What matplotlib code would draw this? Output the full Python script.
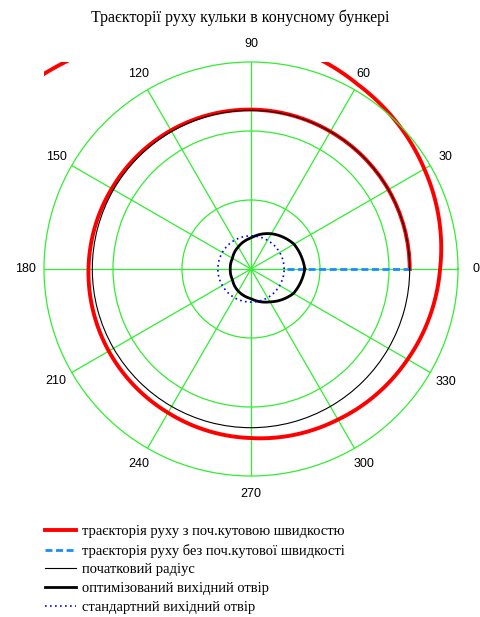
import numpy as np
import matplotlib
matplotlib.use("Agg")
import matplotlib.pyplot as plt

# trajectory with initial angular velocity (angle in degrees, radius in m)
spiral_deg = [0, 30, 60, 90, 120, 150, 180, 210, 240, 270, 300, 330, 360,
              390, 420, 450, 480, 510, 540]
spiral_r = [0.230, 0.230, 0.230, 0.231, 0.232, 0.233, 0.2355, 0.238, 0.2405,
            0.245, 0.252, 0.262, 0.274, 0.290, 0.309, 0.336, 0.380, 0.438, 0.510]

# radial trajectory without initial angular velocity
radial_deg = [0, 0]
radial_r = [0.052, 0.230]

# initial radius and standard outlet
r_init = 0.230
r_std = 0.048

# optimised outlet contour
hole_deg = [0, 30, 60, 90, 120, 150, 180, 210, 240, 270, 300, 330, 360]
hole_r = [0.078, 0.072, 0.059, 0.045, 0.037, 0.031, 0.030, 0.031, 0.037,
          0.043, 0.055, 0.071, 0.078]

angle_labels = [str(a) for a in range(0, 360, 30)]
r_max = 0.3
r_rings = [0.1, 0.2]

labels = ["траєкторія руху з поч.кутовою швидкостю",
          "траєкторія руху без поч.кутової швидкості",
          "початковий радіус",
          "оптимізований вихідний отвір",
          "стандартний вихідний отвір"]

grid_c = "#30ee30"
serif = ["Liberation Serif", "DejaVu Serif"]

fig = plt.figure(figsize=(4.8, 6.17), dpi=100)
ax = fig.add_axes([44 / 480, 141 / 617, 414 / 480, 414 / 617], projection="polar")
ax.set_ylim(0, r_max)
ax.set_yticks(r_rings)
ax.set_yticklabels([])
ax.set_xticks(np.deg2rad(np.arange(0, 360, 30)))
ax.set_xticklabels([])
ax.tick_params(length=0)
ax.grid(True, color=grid_c, lw=0.9)
ax.spines["polar"].set_color(grid_c)
ax.spines["polar"].set_linewidth(0.9)

for a, s in zip(range(0, 360, 30), angle_labels):
    ax.text(np.deg2rad(a), r_max * 225 / 207, s, ha="center", va="center",
            fontsize=9, family="Liberation Sans", clip_on=False)

full = np.deg2rad(np.arange(0, 361, 30))

l1, = ax.plot(np.deg2rad(spiral_deg), spiral_r, color="red", lw=2.8)
l2, = ax.plot(np.deg2rad(radial_deg), radial_r, color="#1a8cff", lw=2.0,
              dashes=(2.5, 1.3))
l3, = ax.plot(full, [r_init] * len(full), color="black", lw=0.8)
l4, = ax.plot(np.deg2rad(hole_deg), hole_r, color="black", lw=2.0)
l5, = ax.plot(full, [r_std] * len(full), color="#0000ff", lw=1.2,
              dashes=(1, 2))

# let the polar transform bend segments into arcs / spiral pieces
for ln in (l1, l3, l4, l5):
    ln.get_path()._interpolation_steps = 60

# spiral runs past the outer ring; clip it to the square plot box only
l1.set_clip_path(None)
l1.set_clip_box(ax.bbox)

fig.text(0.5, 1 - 18 / 617, "Траєкторії руху кульки в конусному бункері",
         ha="center", va="center", fontsize=11.5, family=serif)

fig.legend([l1, l2, l3, l4, l5], labels, loc="upper left",
           bbox_to_anchor=(45 / 480, 1 - 525 / 617), frameon=False,
           prop={"family": serif, "size": 10.5}, handlelength=2.1,
           handletextpad=0.45, labelspacing=0.38, borderpad=0,
           borderaxespad=0)

fig.savefig("out.png", dpi=100)
